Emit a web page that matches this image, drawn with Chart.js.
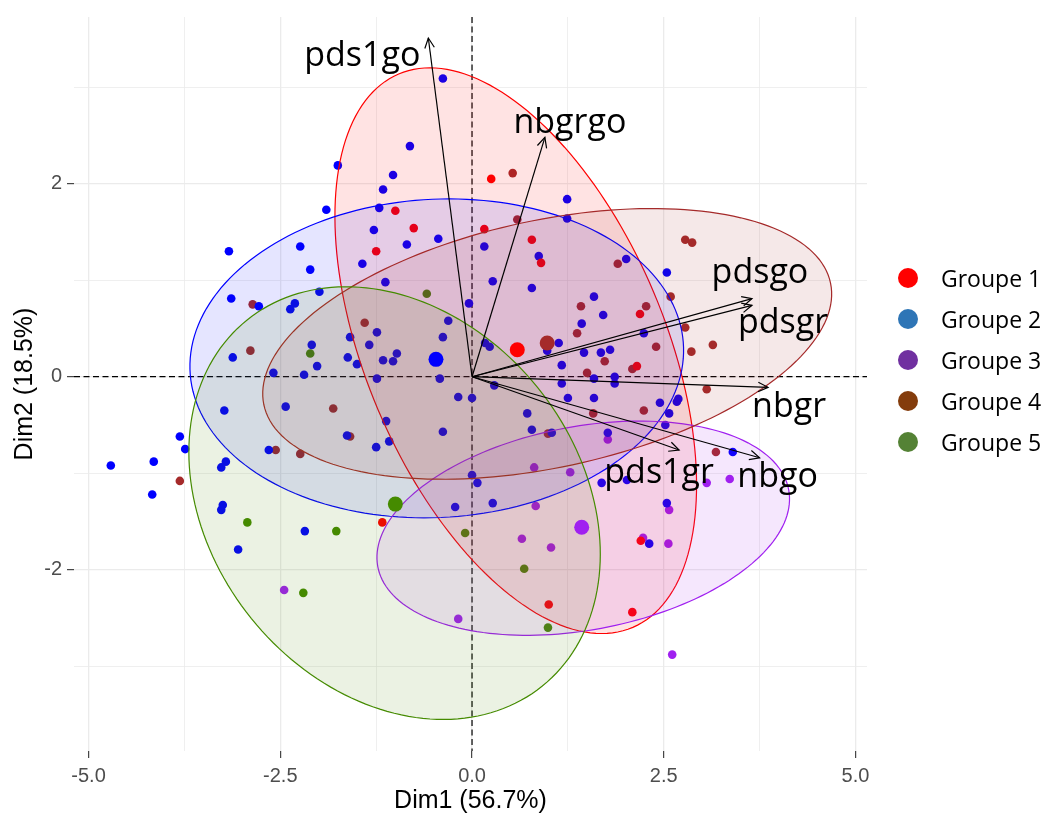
<!DOCTYPE html>
<html>
<head>
<meta charset="utf-8">
<script src="https://cdn.jsdelivr.net/npm/chart.js@4.4.1/dist/chart.umd.min.js"></script>
<style>
  html, body { margin: 0; padding: 0; background: #fff; }
  #wrap { width: 1047px; height: 816px; position: relative; }
</style>
</head>
<body>
<div id="wrap"><canvas id="biplot"></canvas></div>
<script>
/* Biplot ACP — individus par groupe, ellipses, variables */

const groupes = ['Groupe 1', 'Groupe 2', 'Groupe 3', 'Groupe 4', 'Groupe 5'];

// individus (Dim1, Dim2)
const g1x = [-1.00, -0.76, -1.25, 0.25, 0.16, 0.78, 0.90, 2.19, 2.15, -1.17, 2.20, 1.00, 2.09];
const g1y = [1.72, 1.54, 1.30, 2.05, 1.53, 1.42, 1.18, 0.65, 0.11, -1.51, -1.70, -2.36, -2.44];

const g2x = [-0.38, -0.81, -1.75, -1.03, -1.16, -1.90, -1.21, -1.28, -0.44, -0.85,
             -3.17, -2.24, -2.11, -1.43, -1.13, -3.14, -2.78, -1.99, -2.37, -2.31,
             -0.04, -0.31, -0.38, -1.24, -1.59, -1.34, -2.09, -3.12, -1.62, -1.50,
             -2.02, -1.16, -1.03, -0.98, -2.59, -2.19, -1.24, -0.42, -0.18, 0.00,
             -3.23, -2.43, -1.12, -0.38, -1.08, -1.25, -1.63, -3.81, -3.74, -4.71,
             -4.15, -4.17, -2.65, -3.27, -3.21, -3.27, -3.25, -2.18, -3.05, -0.22,
             0.00, 0.07, 1.24, 1.24, 0.16, 0.87, 0.27, 0.78, 2.01, 2.54,
             1.59, 1.71, 1.43, 2.24, 0.17, 0.23, 1.13, 0.98, 1.46, 1.68,
             1.80, 1.17, 1.59, 1.86, 1.86, 1.17, 0.29, 1.59, 1.25, 2.69,
             0.72, 0.78, 1.04, 1.77, 2.45, 2.67, 2.57, 2.52, 3.40, 0.27,
             1.69, 2.02, 2.54, 2.31];
const g2y = [3.09, 2.39, 2.19, 2.09, 1.94, 1.73, 1.75, 1.52, 1.43, 1.37,
             1.30, 1.35, 1.11, 1.17, 0.98, 0.81, 0.73, 0.88, 0.70, 0.76,
             0.76, 0.58, 0.41, 0.46, 0.41, 0.33, 0.33, 0.20, 0.20, 0.13,
             0.11, 0.17, 0.16, 0.24, 0.04, 0.02, -0.02, -0.02, -0.21, -0.22,
             -0.35, -0.31, -0.46, -0.57, -0.67, -0.73, -0.61, -0.62, -0.75, -0.92,
             -0.88, -1.22, -0.76, -0.94, -0.88, -1.38, -1.33, -1.60, -1.79, -1.35,
             -1.02, -1.10, 1.84, 1.64, 1.35, 1.25, 0.99, 0.92, 1.22, 1.08,
             0.83, 0.64, 0.55, 0.45, 0.35, 0.31, 0.35, 0.27, 0.25, 0.25,
             0.28, 0.12, -0.02, 0.00, -0.07, -0.07, -0.09, -0.22, -0.22, -0.23,
             -0.38, -0.55, -0.58, -0.58, -0.27, -0.26, -0.38, -0.50, -0.78, -1.31,
             -1.10, -1.07, -1.31, -1.73];

const g3x = [1.77, 0.81, 1.28, 0.83, 3.06, 3.36, 2.57, 0.65, 1.03, 2.23, 2.56, -0.18, 2.61, -2.45];
const g3y = [-0.65, -0.94, -0.99, -1.34, -1.10, -1.06, -1.38, -1.68, -1.77, -1.67, -1.73, -2.51, -2.88, -2.21];

const g4x = [0.53, 0.59, 2.78, 2.87, 1.90, 2.59, 1.42, 2.27, 1.37, 2.78, 2.40, 2.86, 3.14, 1.73, 2.09,
             1.50, 3.06, 1.58, 2.24, 0.99, 3.18, -2.86, -1.40, -2.89, -1.81, -1.59, -2.56, -2.24, -3.81];
const g4y = [2.11, 1.63, 1.42, 1.39, 1.17, 0.83, 0.73, 0.73, 0.45, 0.51, 0.31, 0.26, 0.33, 0.16, 0.08,
             0.04, -0.13, -0.38, -0.35, -0.59, -0.78, 0.75, 0.56, 0.27, -0.33, -0.62, -0.76, -0.80, -1.08];

const g5x = [-0.59, -2.11, -2.93, -1.77, -0.09, -2.20, 0.68, 0.99];
const g5y = [0.86, 0.24, -1.51, -1.60, -1.62, -2.24, -1.99, -2.60];

// barycentres des groupes
const meanX = [0.59, -0.47, 1.43, 0.98, -1.00];
const meanY = [0.28, 0.18, -1.56, 0.35, -1.32];

// ellipses de concentration : centre, demi-axes, angle (degrés, repère des données)
const ellCx = [0.57, -0.46, 1.45, 0.98, -1.01];
const ellCy = [0.27, 0.19, -1.57, 0.34, -1.31];
const ellA = [3.27, 3.22, 2.71, 3.75, 2.81];
const ellB = [1.86, 1.65, 1.06, 1.29, 2.08];
const ellAngle = [-57.4, 2.0, 7.6, 9.0, -26.3];

// variables (flèches)
const varNames = ['pds1go', 'nbgrgo', 'pdsgo', 'pdsgr', 'nbgr', 'pds1gr', 'nbgo'];
const varX = [-0.57, 0.95, 3.65, 3.65, 3.86, 2.70, 3.75];
const varY = [3.51, 2.48, 0.81, 0.74, -0.11, -0.76, -0.84];

// graduations
const xMajor = [-5, -2.5, 0, 2.5, 5];
const xMinor = [-3.75, -1.25, 1.25, 3.75];
const xTickLabels = ['-5.0', '-2.5', '0.0', '2.5', '5.0'];
const yMajor = [-2, 0, 2];
const yMinor = [-3, -1, 1, 3];
const yTickLabels = ['-2', '0', '2'];

// couleurs
const pointColors = ['#FF0000', '#0000FF', '#A020F0', '#A52A2A', '#458B00'];
const fillColors = ['rgba(255,0,0,0.11)', 'rgba(0,0,255,0.10)', 'rgba(160,32,240,0.11)',
                    'rgba(165,42,42,0.11)', 'rgba(69,139,0,0.11)'];
const legendColors = ['#FF0000', '#2E75B6', '#7030A0', '#843C0C', '#548235'];

// décalage des étiquettes de variables par rapport à la pointe (px)
const labelOffsets = [[-66, 28], [25, -4], [8, -16], [31, 28], [21, 30], [-20, 33], [18, 29]];

const zip = (xs, ys) => xs.map((v, i) => ({ x: v, y: ys[i] }));
const groupPoints = [zip(g1x, g1y), zip(g2x, g2y), zip(g3x, g3y), zip(g4x, g4y), zip(g5x, g5y)];

const zeroLines = {
    id: 'zeroLines',
    beforeDatasetsDraw(chart) {
        const { ctx, chartArea: a, scales: { x, y } } = chart;
        const x0 = x.getPixelForValue(0), y0 = y.getPixelForValue(0);
        ctx.save();
        ctx.strokeStyle = '#000';
        ctx.lineWidth = 1.2;
        ctx.setLineDash([6, 3.5]);
        ctx.beginPath();
        ctx.moveTo(a.left, y0); ctx.lineTo(a.right, y0);
        ctx.moveTo(x0, a.top); ctx.lineTo(x0, a.bottom);
        ctx.stroke();
        ctx.restore();
    }
};

// ellipses tracées entre les individus et les barycentres
const ellipses = {
    id: 'ellipses',
    beforeDatasetDraw(chart, args) {
        if (!chart.data.datasets[args.index].isMeans) return;
        const { ctx, scales: { x, y } } = chart;
        ctx.save();
        for (let g = 0; g < groupes.length; g++) {
            const th = ellAngle[g] * Math.PI / 180;
            ctx.beginPath();
            for (let i = 0; i <= 180; i++) {
                const t = i / 180 * 2 * Math.PI;
                const dx = ellA[g] * Math.cos(t) * Math.cos(th) - ellB[g] * Math.sin(t) * Math.sin(th);
                const dy = ellA[g] * Math.cos(t) * Math.sin(th) + ellB[g] * Math.sin(t) * Math.cos(th);
                const px = x.getPixelForValue(ellCx[g] + dx);
                const py = y.getPixelForValue(ellCy[g] + dy);
                if (i === 0) ctx.moveTo(px, py); else ctx.lineTo(px, py);
            }
            ctx.closePath();
            ctx.fillStyle = fillColors[g];
            ctx.fill();
            ctx.strokeStyle = pointColors[g];
            ctx.lineWidth = 1.2;
            ctx.stroke();
        }
        ctx.restore();
    }
};

const arrows = {
    id: 'arrows',
    afterDatasetsDraw(chart) {
        const { ctx, scales: { x, y } } = chart;
        const ox = x.getPixelForValue(0), oy = y.getPixelForValue(0);
        const L = 11, W = 0.45;
        ctx.save();
        ctx.strokeStyle = '#000';
        ctx.lineWidth = 1.2;
        ctx.fillStyle = '#000';
        ctx.font = '34px "Open Sans"';
        ctx.textAlign = 'center';
        ctx.textBaseline = 'alphabetic';
        varNames.forEach((name, i) => {
            const tx = x.getPixelForValue(varX[i]), ty = y.getPixelForValue(varY[i]);
            const ang = Math.atan2(ty - oy, tx - ox);
            ctx.beginPath();
            ctx.moveTo(tx - L * Math.cos(ang - W), ty - L * Math.sin(ang - W));
            ctx.lineTo(tx, ty);
            ctx.lineTo(tx - L * Math.cos(ang + W), ty - L * Math.sin(ang + W));
            ctx.stroke();
            ctx.fillText(name, tx + labelOffsets[i][0], ty + labelOffsets[i][1]);
        });
        ctx.restore();
    }
};

const legendRight = {
    id: 'legendRight',
    afterDraw(chart) {
        const { ctx } = chart;
        ctx.save();
        ctx.font = '23px "Open Sans"';
        ctx.textAlign = 'left';
        ctx.textBaseline = 'alphabetic';
        groupes.forEach((g, i) => {
            const cy = 278 + i * 41;
            ctx.beginPath();
            ctx.arc(908, cy, 10, 0, 2 * Math.PI);
            ctx.fillStyle = legendColors[i];
            ctx.fill();
            ctx.fillStyle = '#000';
            ctx.fillText(g, 941, cy + 9);
        });
        ctx.restore();
    }
};

Chart.defaults.font.family = '"Liberation Sans", Arial, sans-serif';

const datasets = [];
groupPoints.forEach((pts, g) => {
    datasets.push({
        type: 'scatter',
        label: groupes[g],
        data: pts,
        backgroundColor: pointColors[g],
        borderWidth: 0,
        pointRadius: 4.3,
        order: 4
    });
});
datasets.push({
    type: 'scatter',
    label: 'barycentres',
    isMeans: true,
    data: zip(meanX, meanY),
    backgroundColor: pointColors,
    borderWidth: 0,
    pointRadius: 7.5,
    order: 2
});
varNames.forEach((name, i) => {
    datasets.push({
        type: 'line',
        label: name,
        data: [{ x: 0, y: 0 }, { x: varX[i], y: varY[i] }],
        borderColor: '#000',
        borderWidth: 1.2,
        pointRadius: 0,
        fill: false,
        order: 1
    });
});

const isMajor = (list, c) => c.tick && list.includes(c.tick.value);

new Chart(document.getElementById('biplot'), {
    type: 'scatter',
    data: { datasets },
    options: {
        responsive: true,
        maintainAspectRatio: false,
        animation: false,
        events: [],
        layout: { padding: { left: 0, top: 15, right: 180, bottom: 0 } },
        plugins: { legend: { display: false }, tooltip: { enabled: false } },
        scales: {
            x: {
                type: 'linear',
                min: -5.19,
                max: 5.15,
                afterBuildTicks: s => { s.ticks = [...xMajor, ...xMinor].sort((a, b) => a - b).map(v => ({ value: v })); },
                afterFit: s => { s.height = 65; },
                border: { display: false },
                grid: {
                    color: '#EBEBEB',
                    lineWidth: c => isMajor(xMajor, c) ? 1.3 : 0.8,
                    tickLength: 7,
                    tickWidth: 1.1,
                    tickColor: c => isMajor(xMajor, c) ? '#333333' : 'rgba(0,0,0,0)'
                },
                ticks: {
                    autoSkip: false,
                    maxRotation: 0,
                    padding: 6,
                    color: '#4D4D4D',
                    font: { size: 20 },
                    callback: v => { const i = xMajor.indexOf(v); return i < 0 ? '' : xTickLabels[i]; }
                },
                title: { display: true, text: 'Dim1 (56.7%)', color: '#000', font: { size: 25 }, padding: { top: 0, bottom: 0 } }
            },
            y: {
                type: 'linear',
                min: -3.879,
                max: 3.728,
                afterBuildTicks: s => { s.ticks = [...yMajor, ...yMinor].sort((a, b) => a - b).map(v => ({ value: v })); },
                afterFit: s => { s.width = 74; },
                border: { display: false },
                grid: {
                    color: '#EBEBEB',
                    lineWidth: c => isMajor(yMajor, c) ? 1.3 : 0.8,
                    tickLength: 7,
                    tickWidth: 1.1,
                    tickColor: c => isMajor(yMajor, c) ? '#333333' : 'rgba(0,0,0,0)'
                },
                ticks: {
                    autoSkip: false,
                    padding: 5,
                    color: '#4D4D4D',
                    font: { size: 20 },
                    callback: v => { const i = yMajor.indexOf(v); return i < 0 ? '' : yTickLabels[i]; }
                },
                title: { display: true, text: 'Dim2 (18.5%)', color: '#000', font: { size: 25 }, padding: { top: 10, bottom: 0 } }
            }
        }
    },
    plugins: [zeroLines, ellipses, arrows, legendRight]
});
</script>
</body>
</html>
